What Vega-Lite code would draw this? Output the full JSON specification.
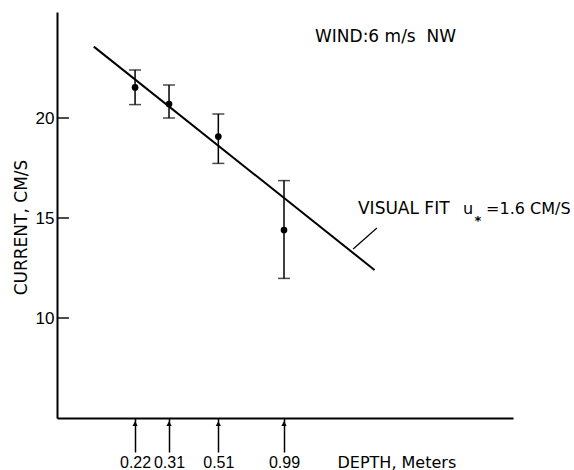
{
  "$schema": "https://vega.github.io/schema/vega-lite/v6.json",
  "width": 456,
  "height": 406,
  "autosize": {"type": "none"},
  "padding": {"left": 57, "top": 12, "right": 61, "bottom": 52},
  "background": "white",
  "config": {
    "view": {"stroke": null},
    "font": "DejaVu Sans",
    "axis": {"grid": false, "domainColor": "black", "tickColor": "black", "labelColor": "black", "titleColor": "black", "domainWidth": 2, "labelFont": "Liberation Sans", "titleFont": "DejaVu Sans"}
  },
  "datasets": {
    "points": [
      {"depth": 0.22, "current": 21.53, "lo": 20.67, "hi": 22.4},
      {"depth": 0.31, "current": 20.7, "lo": 20.0, "hi": 21.65},
      {"depth": 0.51, "current": 19.07, "lo": 17.73, "hi": 20.2},
      {"depth": 0.99, "current": 14.4, "lo": 11.98, "hi": 16.87}
    ],
    "yticks": [{"v": 10}, {"v": 15}, {"v": 20}],
    "fit": [
      {"depth": 0.145, "current": 23.57},
      {"depth": 2.47, "current": 12.4}
    ],
    "leader": [
      {"depth": 1.99, "current": 13.45},
      {"depth": 2.53, "current": 14.5}
    ],
    "labels17": [
      {"depth": 1.354, "current": 23.8, "text": "WIND:6 m/s\u00a0\u00a0NW"},
      {"depth": 2.09, "current": 15.19, "text": "VISUAL FIT"}
    ],
    "labels16": [
      {"depth": 6.03, "current": 15.19, "text": "u"},
      {"depth": 7.62, "current": 15.19, "text": "=1.6 CM/S"}
    ],
    "star": [
      {"depth": 7.01, "current": 14.85, "text": "*"}
    ]
  },
  "layer": [
    {
      "data": {"name": "points"},
      "mark": {"type": "rule", "strokeWidth": 1.5, "color": "black"},
      "encoding": {
        "x": {
          "field": "depth", "type": "quantitative",
          "scale": {"type": "log", "domain": [0.1, 10]},
          "axis": {
            "values": [0.22, 0.31, 0.51, 0.99], "format": ".2f",
            "tickSize": 34, "tickWidth": 1.5, "labelPadding": 15, "labelBaseline": "alphabetic",
            "labelFontSize": 16, "labelFlush": false, "labelOverlap": false,
            "title": "DEPTH, Meters", "titleX": 280, "titleY": 49, "titleAlign": "left",
            "titleBaseline": "alphabetic", "titleFontSize": 16, "titleFontWeight": "normal"
          }
        },
        "y": {
          "field": "lo", "type": "quantitative",
          "scale": {"domain": [5, 25.3], "nice": false, "zero": false},
          "axis": {
            "values": [10, 15, 20], "ticks": false, "labelPadding": 3,
            "labelFontSize": 17, "title": "CURRENT, CM/S", "titleX": -36, "titleY": 215,
            "titleAngle": -90, "titleAlign": "center", "titleBaseline": "middle",
            "titleFontSize": 17, "titleFontWeight": "normal"
          }
        },
        "y2": {"field": "hi"}
      }
    },
    {
      "data": {"name": "yticks"},
      "mark": {"type": "tick", "orient": "horizontal", "size": 12, "thickness": 2, "color": "black"},
      "encoding": {
        "x": {"datum": 0.1062},
        "y": {"field": "v", "type": "quantitative"}
      }
    },
    {
      "data": {"name": "points"},
      "mark": {"type": "tick", "orient": "horizontal", "size": 12, "thickness": 1.5, "color": "black"},
      "encoding": {
        "x": {"field": "depth", "type": "quantitative"},
        "y": {"field": "lo", "type": "quantitative"}
      }
    },
    {
      "data": {"name": "points"},
      "mark": {"type": "tick", "orient": "horizontal", "size": 12, "thickness": 1.5, "color": "black"},
      "encoding": {
        "x": {"field": "depth", "type": "quantitative"},
        "y": {"field": "hi", "type": "quantitative"}
      }
    },
    {
      "data": {"name": "points"},
      "mark": {"type": "point", "filled": true, "size": 45, "color": "black", "opacity": 1},
      "encoding": {
        "x": {"field": "depth", "type": "quantitative"},
        "y": {"field": "current", "type": "quantitative"}
      }
    },
    {
      "data": {"name": "points"},
      "mark": {"type": "point", "shape": "triangle-up", "filled": true, "size": 28, "color": "black", "opacity": 1},
      "encoding": {
        "x": {"field": "depth", "type": "quantitative"},
        "y": {"datum": 4.72}
      }
    },
    {
      "data": {"name": "fit"},
      "mark": {"type": "line", "strokeWidth": 2, "color": "black"},
      "encoding": {
        "x": {"field": "depth", "type": "quantitative"},
        "y": {"field": "current", "type": "quantitative"}
      }
    },
    {
      "data": {"name": "leader"},
      "mark": {"type": "line", "strokeWidth": 1.2, "color": "black"},
      "encoding": {
        "x": {"field": "depth", "type": "quantitative"},
        "y": {"field": "current", "type": "quantitative"}
      }
    },
    {
      "data": {"name": "labels17"},
      "mark": {"type": "text", "align": "left", "baseline": "alphabetic", "fontSize": 17, "color": "black"},
      "encoding": {
        "x": {"field": "depth", "type": "quantitative"},
        "y": {"field": "current", "type": "quantitative"},
        "text": {"field": "text"}
      }
    },
    {
      "data": {"name": "labels16"},
      "mark": {"type": "text", "align": "left", "baseline": "alphabetic", "fontSize": 16, "color": "black"},
      "encoding": {
        "x": {"field": "depth", "type": "quantitative"},
        "y": {"field": "current", "type": "quantitative"},
        "text": {"field": "text"}
      }
    },
    {
      "data": {"name": "star"},
      "mark": {"type": "text", "align": "center", "baseline": "middle", "fontSize": 13, "fontWeight": "bold", "color": "black"},
      "encoding": {
        "x": {"field": "depth", "type": "quantitative"},
        "y": {"field": "current", "type": "quantitative"},
        "text": {"field": "text"}
      }
    }
  ]
}
